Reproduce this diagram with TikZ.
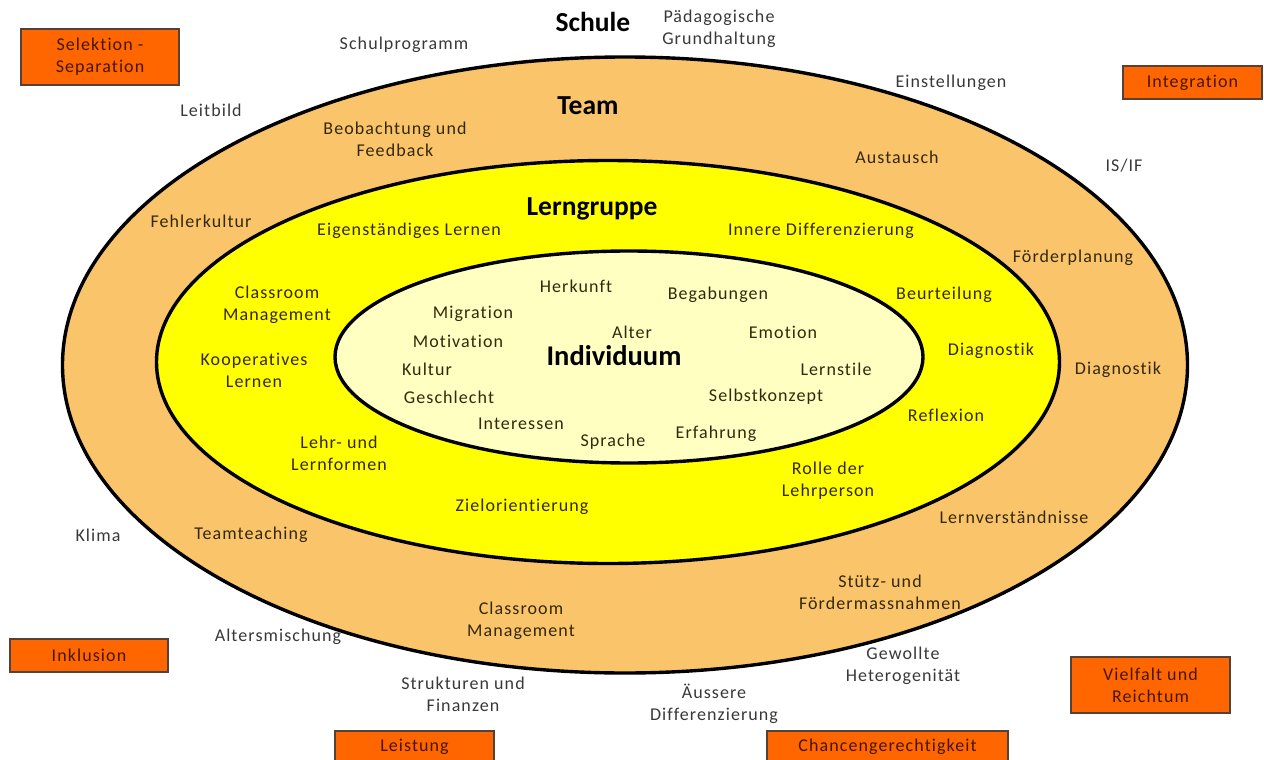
\documentclass[tikz,border=0pt]{standalone}
\usepackage{fontspec}
\setmainfont[LetterSpace=6,Ligatures={NoCommon}]{Carlito}
\newfontfamily\headfont{Carlito}
\usepackage{tikz}
\usetikzlibrary{shapes.geometric,positioning}

\definecolor{ringorange}{RGB}{250,196,106}
\definecolor{ringyellow}{RGB}{255,255,0}
\definecolor{corelight}{RGB}{255,255,194}
\definecolor{boxorange}{RGB}{255,102,0}
\definecolor{boxline}{RGB}{85,65,55}
\definecolor{outtext}{RGB}{56,56,56}
\definecolor{intext}{RGB}{52,40,12}
\definecolor{boxtext}{RGB}{70,22,0}

\begin{document}
\begin{tikzpicture}[x=1pt,y=-1pt]
  \tikzstyle{ring}=[ellipse,draw=black,line width=3.4pt,inner sep=0pt]
  \tikzstyle{word}=[align=center,inner sep=1pt,text=intext,font=\fontsize{18}{22}\selectfont]
  \tikzstyle{outword}=[word,text=outtext]
  \tikzstyle{title}=[inner sep=1pt,text=black,font=\headfont\bfseries\fontsize{27.5}{30}\selectfont]
  \tikzstyle{tag}=[rectangle,draw=boxline,line width=1.3pt,fill=boxorange,align=center,
    text=boxtext,font=\fontsize{18}{22}\selectfont,inner sep=0pt]

  \useasboundingbox (0,0) rectangle (1264,760);
  \clip (0,0) rectangle (1264,760);

  % rings
  \node[ring,fill=ringorange,minimum width=1125pt,minimum height=616pt] (outer) at (625,365) {};
  \node[ring,fill=ringyellow,minimum width=903pt,minimum height=403pt] (middle) at (608,362) {};
  \node[ring,fill=corelight,minimum width=588pt,minimum height=212pt] (inner) at (629,357) {};

  % titles
  \node[title] (schule) at (593,22) {Schule};
  \node[title] (team) at (588,106) {Team};
  \node[title] (lerngruppe) at (592,209) {Lerngruppe};
  \node[title,font=\headfont\bfseries\fontsize{28.5}{30}\selectfont] (individuum) at (614,356) {Individuum};

  % outside
  \node[outword] (schulprogramm) at (404,45) {Schulprogramm};
  \node[outword] (grundhaltung) at (719,29) {Pädagogische\\Grundhaltung};
  \node[outword] (leitbild) at (211,110) {Leitbild};
  \node[outword] (einstellungen) at (951,83) {Einstellungen};
  \node[outword] (isif) at (1124,166) {IS/IF};
  \node[outword] (klima) at (98,535) {Klima};
  \node[outword] (altersmischung) at (278,637) {Altersmischung};
  \node[outword] (strukturen) at (463,694) {Strukturen und\\Finanzen};
  \node[outword] (aeussere) at (714,704) {Äussere\\Differenzierung};
  \node[outword] (gewollte) at (903,666) {Gewollte\\Heterogenität};

  % team ring
  \node[word] (beobachtung) at (395,139) {Beobachtung und\\Feedback};
  \node[word] (austausch) at (897,157) {Austausch};
  \node[word] (fehlerkultur) at (201,221) {Fehlerkultur};
  \node[word] (foerderplanung) at (1073,258) {Förderplanung};
  \node[word] (diagnostikteam) at (1118,370) {Diagnostik};
  \node[word] (lernverst) at (1014,517) {Lernverständnisse};
  \node[word] (teamteaching) at (251,535) {Teamteaching};
  \node[word] (stuetz) at (880,592) {Stütz- und\\Fördermassnahmen};
  \node[word] (classroomteam) at (521,621) {Classroom\\Management};

  % lerngruppe ring
  \node[word] (eigen) at (409,231) {Eigenständiges Lernen};
  \node[word] (innere) at (821,231) {Innere Differenzierung};
  \node[word] (classroom) at (277,305) {Classroom\\Management};
  \node[word] (beurteilung) at (944,295) {Beurteilung};
  \node[word] (kooperativ) at (254,370) {Kooperatives\\Lernen};
  \node[word] (diagnostik) at (991,351) {Diagnostik};
  \node[word] (reflexion) at (946,415) {Reflexion};
  \node[word] (lehrformen) at (339,453) {Lehr- und\\Lernformen};
  \node[word] (rolle) at (828,481) {Rolle der\\Lehrperson};
  \node[word] (ziel) at (522,507) {Zielorientierung};

  % individuum
  \node[word] (herkunft) at (576,286) {Herkunft};
  \node[word] (begabungen) at (718,295) {Begabungen};
  \node[word] (migration) at (473,314) {Migration};
  \node[word] (alter) at (632,332) {Alter};
  \node[word] (emotion) at (783,332) {Emotion};
  \node[word] (motivation) at (458,341) {Motivation};
  \node[word] (kultur) at (427,369) {Kultur};
  \node[word] (lernstile) at (836,369) {Lernstile};
  \node[word] (geschlecht) at (449,397) {Geschlecht};
  \node[word] (selbstkonzept) at (766,397) {Selbstkonzept};
  \node[word] (interessen) at (521,424) {Interessen};
  \node[word] (sprache) at (613,442) {Sprache};
  \node[word] (erfahrung) at (716,434) {Erfahrung};

  % poles
  \node[tag,minimum width=158pt,minimum height=56pt] (selektion) at (100,57) {Selektion -\\Separation};
  \node[tag,minimum width=139pt,minimum height=33pt] (integration) at (1192.5,82.5) {Integration};
  \node[tag,minimum width=158pt,minimum height=33pt] (inklusion) at (89,655.5) {Inklusion};
  \node[tag,minimum width=159pt,minimum height=56pt] (vielfalt) at (1150.5,685) {Vielfalt und\\Reichtum};
  \node[tag,minimum width=159pt,minimum height=40pt] (leistung) at (414.5,751) {};
  \node[tag,minimum width=241pt,minimum height=40pt] (chancen) at (887.5,751) {};
  \node[word,text=boxtext] at (414.5,747) {Leistung};
  \node[word,text=boxtext] at (887.5,747) {Chancengerechtigkeit};
\end{tikzpicture}
\end{document}
